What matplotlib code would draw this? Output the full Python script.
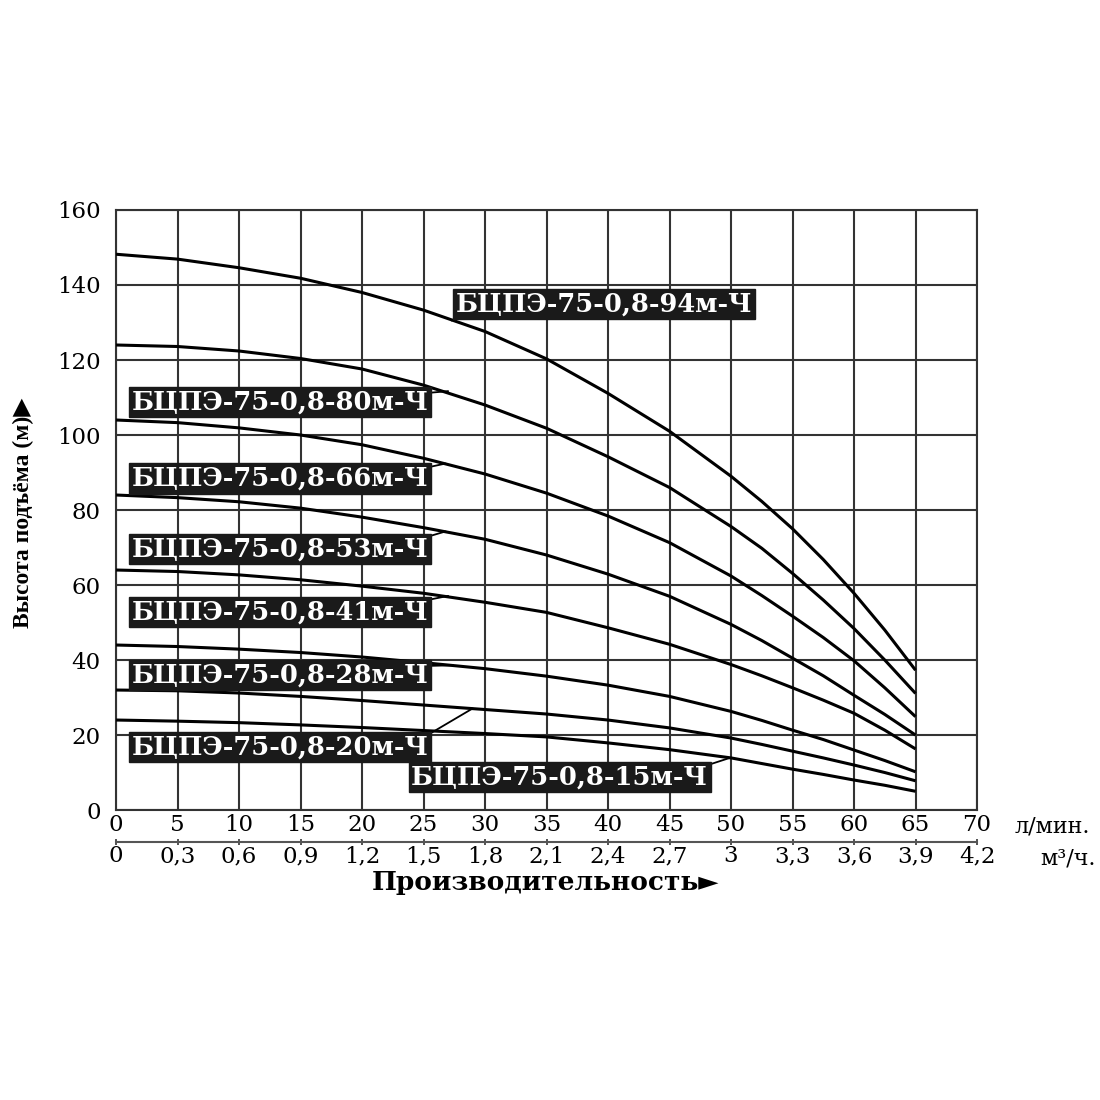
import matplotlib
matplotlib.use("Agg")
import matplotlib.pyplot as plt
from matplotlib.ticker import FixedLocator, FuncFormatter

# -----------------------------
# Data (head, m  vs  flow, l/min)
# -----------------------------
flow_lpm = [0, 5, 10, 15, 20, 25, 30, 35, 40, 45, 50, 52.5, 55, 57.5, 60, 62.5, 65]

head_94 = [148.2, 146.9, 144.6, 141.8, 138.0, 133.3, 127.6, 120.3, 111.1, 101.0, 89.0, 82.3, 75.0, 66.8, 57.8, 48.0, 37.3]
head_80 = [124.0, 123.6, 122.4, 120.4, 117.6, 113.3, 108.0, 101.8, 94.2, 86.0, 75.6, 69.8, 63.1, 56.0, 48.4, 40.0, 31.1]
head_66 = [104.0, 103.3, 101.9, 100.0, 97.4, 93.8, 89.6, 84.5, 78.4, 71.3, 62.4, 57.2, 51.7, 46.0, 39.8, 32.6, 24.9]
head_53 = [84.0, 83.3, 82.2, 80.5, 78.1, 75.3, 72.2, 68.0, 62.9, 57.0, 49.5, 45.2, 40.5, 35.8, 30.6, 25.5, 20.0]
head_41 = [64.0, 63.6, 62.7, 61.4, 59.7, 57.8, 55.4, 52.7, 48.6, 44.2, 38.8, 35.8, 32.6, 29.3, 25.8, 21.3, 16.3]
head_28 = [44.0, 43.6, 42.9, 42.0, 40.8, 39.3, 37.7, 35.7, 33.3, 30.3, 26.3, 23.9, 21.3, 18.8, 16.0, 13.2, 10.2]
head_20 = [32.0, 31.8, 31.2, 30.3, 29.2, 28.0, 26.8, 25.6, 24.0, 21.9, 19.2, 17.5, 15.7, 13.9, 12.0, 10.0, 7.8]
head_15 = [24.0, 23.7, 23.3, 22.7, 22.0, 21.2, 20.4, 19.5, 17.9, 16.1, 13.9, 12.4, 10.9, 9.5, 8.0, 6.6, 5.0]

model_names = [
    "БЦПЭ-75-0,8-94м-Ч", "БЦПЭ-75-0,8-80м-Ч", "БЦПЭ-75-0,8-66м-Ч", "БЦПЭ-75-0,8-53м-Ч",
    "БЦПЭ-75-0,8-41м-Ч", "БЦПЭ-75-0,8-28м-Ч", "БЦПЭ-75-0,8-20м-Ч", "БЦПЭ-75-0,8-15м-Ч",
]

x_ticks_lpm = [0, 5, 10, 15, 20, 25, 30, 35, 40, 45, 50, 55, 60, 65, 70]
x_ticks_m3h = [0, 0.3, 0.6, 0.9, 1.2, 1.5, 1.8, 2.1, 2.4, 2.7, 3.0, 3.3, 3.6, 3.9, 4.2]
y_ticks = [0, 20, 40, 60, 80, 100, 120, 140, 160]

# label placement: (text x, text y, curve point x, curve point y, relpos on box)
label_layout = [
    (27.6, 134.9, 27.3, 130.5, (0.0, 0.0)),
    (1.25, 108.9, 27.0, 111.7, (1.0, 0.85)),
    (1.25, 88.4, 26.8, 92.4, (1.0, 0.95)),
    (1.25, 69.6, 26.8, 74.3, (1.0, 1.0)),
    (1.25, 52.7, 27.0, 57.1, (1.0, 1.0)),
    (1.25, 36.1, 27.4, 38.6, (1.0, 0.85)),
    (1.25, 16.8, 29.0, 27.1, (1.0, 1.0)),
    (24.0, 8.7, 49.9, 13.9, (1.0, 1.0)),
]

SERIF = ["DejaVu Serif"]


def comma(v, _pos=None):
    return f"{v:g}".replace(".", ",")


def main() -> None:
    fig = plt.figure(figsize=(11, 11), dpi=100)
    ax = fig.add_axes([0.1055, 0.2636, 0.7827, 0.5455])

    grid_kw = dict(color="#333333", linewidth=1.5, zorder=1)
    for xv in x_ticks_lpm:
        ax.axvline(xv, **grid_kw)
    for yv in y_ticks:
        ax.axhline(yv, **grid_kw)

    curves = [head_94, head_80, head_66, head_53, head_41, head_28, head_20, head_15]
    for h in curves:
        ax.plot(flow_lpm, h, color="black", linewidth=2.2, zorder=3,
                solid_capstyle="butt", solid_joinstyle="round")

    for name, (tx, ty, cx, cy, rp) in zip(model_names, label_layout):
        ax.annotate(
            name, xy=(cx, cy), xytext=(tx, ty), textcoords="data",
            ha="left", va="center", color="white", fontsize=18.5,
            fontweight="bold", family=SERIF, zorder=5,
            bbox=dict(boxstyle="square,pad=0.1", fc="#1a1a1a", ec="#1a1a1a"),
            arrowprops=dict(arrowstyle="-", color="black", lw=1.3,
                            relpos=rp, shrinkA=0, shrinkB=0),
        )

    ax.set_xlim(0, 70)
    ax.set_ylim(0, 160)
    for s in ax.spines.values():
        s.set_color("#333333")
        s.set_linewidth(1.5)

    ax.xaxis.set_major_locator(FixedLocator(x_ticks_lpm))
    ax.yaxis.set_major_locator(FixedLocator(y_ticks))
    ax.tick_params(axis="both", length=0, labelsize=16.5)
    ax.tick_params(axis="x", pad=3)
    ax.tick_params(axis="y", pad=11)
    for lab in ax.get_xticklabels() + ax.get_yticklabels():
        lab.set_family(SERIF)

    # second flow scale in m3/h
    sec = ax.secondary_xaxis(-0.053, functions=(lambda q: q * 0.06, lambda q: q / 0.06))
    sec.xaxis.set_major_locator(FixedLocator(x_ticks_m3h))
    sec.xaxis.set_major_formatter(FuncFormatter(comma))
    sec.tick_params(axis="x", direction="inout", length=5, width=1.2,
                    labelsize=16.5, pad=0, color="#333333")
    sec.spines["bottom"].set_color("#555555")
    sec.spines["bottom"].set_linewidth(1.5)
    for lab in sec.get_xticklabels():
        lab.set_family(SERIF)

    ax.text(1.044, -0.028, "л/мин.", transform=ax.transAxes, ha="left", va="center",
            fontsize=16, family=SERIF)
    ax.text(1.074, -0.08, "м³/ч.", transform=ax.transAxes, ha="left", va="center",
            fontsize=16, family=SERIF)

    fig.text(0.496, 0.198, "Производительность►", ha="center", va="center",
             fontsize=19, fontweight="bold", family=SERIF)
    fig.text(0.021, 0.534, "Высота подъёма (м)▶", ha="center", va="center", rotation=90,
             fontsize=17, fontweight="bold", family=["Liberation Serif", "DejaVu Sans"])

    fig.savefig("out.png", dpi=100, facecolor="white")
    plt.close(fig)


if __name__ == "__main__":
    main()
